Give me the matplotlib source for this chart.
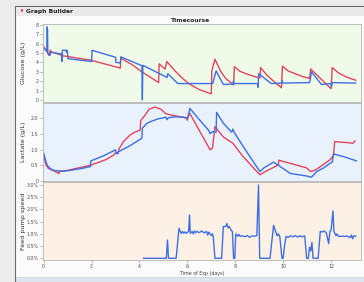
import matplotlib
matplotlib.use('Agg')
import matplotlib.pyplot as plt
from matplotlib.patches import Rectangle, Polygon
from matplotlib.ticker import FuncFormatter

# Glucose (g/L)
glu_blue_t = [0.0, 0.1, 0.13, 0.14, 0.16, 0.17, 0.22, 0.27, 0.3, 0.5, 0.74, 0.76, 0.78, 0.93, 0.95, 0.98,
              1.02, 2.0, 2.02, 3.0, 3.02, 3.2, 3.22, 4.1, 4.12, 4.14, 5.15, 5.18, 5.6, 7.06, 7.2, 7.5,
              7.9, 7.92, 7.95, 8.92, 8.95, 8.98, 9.5, 9.93, 9.95, 10.0, 11.1, 11.12, 11.18, 11.6, 12.0,
              12.02, 12.05, 13.03]
glu_blue_v = [5.5, 5.3, 5.2, 7.8, 7.5, 5.0, 4.8, 4.8, 5.1, 5.0, 4.9, 4.1, 5.3, 5.3, 5.1, 5.3,
              4.4, 4.1, 5.3, 4.55, 4.0, 3.95, 4.6, 3.65, 0.0, 3.7, 2.4, 2.8, 1.75, 1.75, 3.1, 1.65,
              1.7, 2.0, 1.75, 1.75, 1.35, 2.8, 1.75, 1.8, 2.05, 1.8, 1.85, 2.0, 3.0, 1.65, 1.75,
              1.45, 1.85, 1.8]
glu_red_t = [0.0, 0.21, 0.23, 0.27, 0.3, 0.83, 1.95, 3.2, 3.22, 3.7, 4.1, 4.5, 4.8, 4.82, 5.07, 5.14,
             5.5, 5.8, 6.08, 6.5, 7.0, 7.02, 7.15, 7.4, 7.6, 7.93, 7.96, 8.2, 8.5, 8.8, 9.03, 9.06,
             9.3, 9.6, 9.93, 9.97, 10.2, 10.5, 10.8, 11.1, 11.15, 12.0, 12.05, 12.3, 12.6, 12.8, 13.03]
glu_red_v = [5.7, 4.8, 4.75, 5.3, 5.15, 4.7, 4.25, 3.4, 4.45, 3.75, 3.0, 2.35, 1.85, 3.85, 3.3, 4.1,
             3.05, 2.3, 1.7, 1.1, 0.65, 3.1, 4.35, 3.0, 2.3, 1.6, 3.55, 3.05, 2.75, 2.5, 2.35, 3.45,
             2.7, 2.0, 1.3, 3.6, 3.1, 2.8, 2.5, 2.3, 3.3, 1.2, 3.45, 2.9, 2.5, 2.3, 2.1]

# Lactate (g/L)
lac_blue_t = [0.0, 0.1, 0.15, 0.2, 0.3, 0.45, 0.83, 1.2, 1.6, 1.95, 1.97, 2.5, 3.0, 3.02, 3.1, 3.12,
              3.6, 4.1, 4.12, 4.3, 4.5, 4.8, 5.0, 5.1, 5.15, 5.2, 5.5, 5.8, 6.0, 6.05, 6.1, 6.5,
              6.9, 6.95, 7.05, 7.2, 7.22, 7.5, 7.85, 7.9, 7.95, 8.5, 9.03, 9.2, 9.6, 9.7, 10.3,
              10.97, 11.18, 11.4, 11.7, 11.95, 12.05, 12.1, 12.5, 13.06]
lac_blue_v = [0.88, 0.6, 0.5, 0.45, 0.38, 0.33, 0.31, 0.35, 0.4, 0.46, 0.64, 0.8, 0.99, 0.87, 0.87, 0.93,
              1.12, 1.36, 1.68, 1.83, 1.9, 1.98, 2.01, 2.03, 1.95, 2.01, 2.04, 2.03, 2.0, 2.06, 2.31, 1.95,
              1.6, 1.5, 1.57, 1.55, 2.18, 1.84, 1.55, 1.65, 1.55, 0.9, 0.3, 0.42, 0.6, 0.55, 0.24,
              0.16, 0.12, 0.3, 0.42, 0.56, 0.6, 0.86, 0.78, 0.64]
lac_red_t = [0.0, 0.1, 0.2, 0.4, 0.6, 0.63, 0.66, 1.0, 1.95, 2.6, 2.93, 3.0, 3.1, 3.15, 3.33, 3.6,
             3.8, 4.03, 4.05, 4.24, 4.4, 4.65, 4.9, 5.1, 5.3, 5.5, 5.8, 5.97, 6.0, 6.05, 6.1, 6.95,
             7.05, 7.15, 7.5, 7.9, 8.3, 8.9, 9.03, 9.3, 9.8, 9.82, 10.97, 11.15, 11.35, 11.95, 12.1,
             12.15, 12.7, 12.9, 13.0]
lac_red_v = [0.83, 0.5, 0.4, 0.33, 0.26, 0.23, 0.3, 0.34, 0.5, 0.68, 0.83, 0.9, 0.88, 1.03, 1.25, 1.46,
             1.55, 1.62, 1.92, 2.1, 2.28, 2.35, 2.28, 2.14, 2.1, 2.07, 2.03, 2.0, 1.93, 2.15, 2.15, 0.99,
             1.05, 1.73, 1.4, 1.2, 0.8, 0.3, 0.2, 0.32, 0.51, 0.66, 0.42, 0.3, 0.35, 0.67, 0.8,
             1.25, 1.22, 1.2, 1.27]

# Feed pump speed (%)
feed_t = [4.17, 5.12, 5.17, 5.21, 5.53, 5.65, 5.7, 5.75, 5.8, 5.85, 5.9, 5.95, 6.05, 6.09, 6.12, 6.2,
          6.25, 6.3, 6.35, 6.4, 6.5, 6.6, 6.7, 6.8, 6.85, 6.9, 6.95, 7.0, 7.05, 7.08, 7.15, 7.43,
          7.5, 7.6, 7.65, 7.7, 7.75, 7.82, 7.88, 7.93, 7.98, 8.02, 8.1, 8.15, 8.2, 8.3, 8.4, 8.5,
          8.6, 8.7, 8.8, 8.9, 8.97, 9.02, 9.45, 9.6, 9.68, 9.75, 9.8, 9.86, 9.95, 10.0, 10.05,
          10.12, 10.2, 10.3, 10.4, 10.5, 10.6, 10.7, 10.8, 10.9, 10.98, 11.05, 11.1, 11.15, 11.2,
          11.25, 11.46, 11.55, 11.65, 11.7, 11.8, 11.9, 11.95, 12.0, 12.08, 12.12, 12.2, 12.25,
          12.3, 12.5, 12.7, 12.8, 12.85, 12.9, 12.95, 13.03]
feed_v = [0.0, 0.0, 0.75, 0.0, 0.0, 1.23, 1.1, 1.02, 1.1, 1.03, 1.08, 1.02, 1.1, 1.77, 1.02, 1.1,
          1.0, 1.12, 1.05, 1.1, 1.05, 1.12, 1.04, 1.1, 0.95, 1.07, 1.0, 0.93, 1.0, 0.88, 0.0, 0.0,
          1.3, 1.3, 1.42, 1.25, 1.3, 1.15, 1.1, 0.0, 0.0, 1.0, 0.9, 0.98, 0.9, 0.92, 0.88, 0.93,
          0.86, 0.92, 0.9, 0.93, 3.0, 0.0, 0.0, 1.35, 1.1, 0.92, 1.0, 0.88, 0.0, 0.0, 0.45,
          0.9, 0.85, 0.92, 0.88, 0.93, 0.87, 0.92, 0.88, 0.92, 0.0, 0.0, 0.45, 0.3, 0.65,
          0.0, 0.0, 1.1, 1.08, 1.12, 1.05, 0.6, 1.1, 1.15, 1.93, 1.1, 0.93, 1.0,
          0.9, 0.9, 0.9, 0.85, 0.95, 0.8, 0.92, 0.9]

x_ticks = [0, 2, 4, 6, 8, 10, 12]
glu_ticks = [0, 1, 2, 3, 4, 5, 6, 7, 8]
lac_ticks = [0, 0.5, 1.0, 1.5, 2.0]
feed_ticks = [0.0, 0.5, 1.0, 1.5, 2.0, 2.5, 3.0]

BLUE = '#3d6fe2'
RED = '#e2445c'
W, H = 364, 282


def fx(px):
    return px / W


def fy(py):
    return 1 - py / H


fig = plt.figure(figsize=(W / 100, H / 100), dpi=100, facecolor='#ececec')

# window frame (behind the axes)
fig.patches.append(Rectangle((fx(15), 0), fx(W) - fx(15) + 0.01, fy(6), transform=fig.transFigure,
                             facecolor='#fbfbfb', edgecolor='#6a6a6a', lw=0.8, zorder=-3))
fig.patches.append(Rectangle((fx(15.5), fy(16)), 1, fy(6.5) - fy(16), transform=fig.transFigure,
                             facecolor='#e9e9e9', edgecolor='none', zorder=-2))
fig.patches.append(Rectangle((fx(15.5), 0), 1, fy(276.5), transform=fig.transFigure,
                             facecolor='#dfe5ee', edgecolor='#c9d2de', lw=0.5, zorder=-2))
fig.patches.append(Polygon([(fx(20.5), fy(9.5)), (fx(23.5), fy(9.5)), (fx(22), fy(12.5))],
                           closed=True, transform=fig.transFigure, facecolor='#d0263a',
                           edgecolor='none', zorder=-1))
fig.text(fx(25.5), fy(11.3), 'Graph Builder', fontsize=4.3, fontweight='bold', color='#222222',
         va='center', ha='left')
fig.text(fx(191), fy(20), 'Timecourse', fontsize=4.3, fontweight='bold', color='#222222',
         va='center', ha='center')

left, right = 42.5, 361
panels = [
    (24, 102.3, '#effbe8', 'Glucose (g/L)'),
    (103.3, 181, '#e8f1fc', 'Lactate (g/L)'),
    (182.3, 260, '#fdf1e5', 'Feed pump speed'),
]
axes = []
for top, bot, bg, lab in panels:
    ax = fig.add_axes([fx(left), fy(bot), fx(right) - fx(left), fy(top) - fy(bot)])
    ax.set_facecolor(bg)
    for s in ax.spines.values():
        s.set_color('#b4b4b4')
        s.set_linewidth(0.6)
    ax.tick_params(axis='both', labelsize=3.4, colors='#9a9a9a', labelcolor='#505050',
                   length=2, width=0.5, pad=1)
    ax.set_xlim(-0.05, 13.25)
    ax.set_xticks(x_ticks)
    fig.text(fx(24), fy((top + bot) / 2), lab, rotation=90, fontsize=4.6, color='#333333',
             ha='center', va='center')
    axes.append(ax)

ax_g, ax_l, ax_f = axes

ax_g.plot(glu_red_t, glu_red_v, color=RED, lw=1.0)
ax_g.plot(glu_blue_t, glu_blue_v, color=BLUE, lw=1.0)
ax_g.set_ylim(-0.25, 8.1)
ax_g.set_yticks(glu_ticks)
ax_g.tick_params(axis='x', bottom=False, labelbottom=False)

ax_l.plot(lac_red_t, lac_red_v, color=RED, lw=1.0)
ax_l.plot(lac_blue_t, lac_blue_v, color=BLUE, lw=1.0)
ax_l.set_ylim(0, 2.47)
ax_l.set_yticks(lac_ticks)
ax_l.yaxis.set_major_formatter(FuncFormatter(lambda v, p: '0' if v == 0 else f'{v:.1f}'))
ax_l.tick_params(axis='x', bottom=False, labelbottom=False)

ax_f.plot(feed_t, feed_v, color=BLUE, lw=1.0)
ax_f.set_ylim(-0.07, 3.11)
ax_f.set_yticks(feed_ticks)
ax_f.yaxis.set_major_formatter(FuncFormatter(lambda v, p: f'{v:.1f}%'))
ax_f.set_xlabel('Time of Exp (days)', fontsize=3.4, color='#444444', labelpad=1)

fig.savefig('out.png', dpi=100, facecolor=fig.get_facecolor())
